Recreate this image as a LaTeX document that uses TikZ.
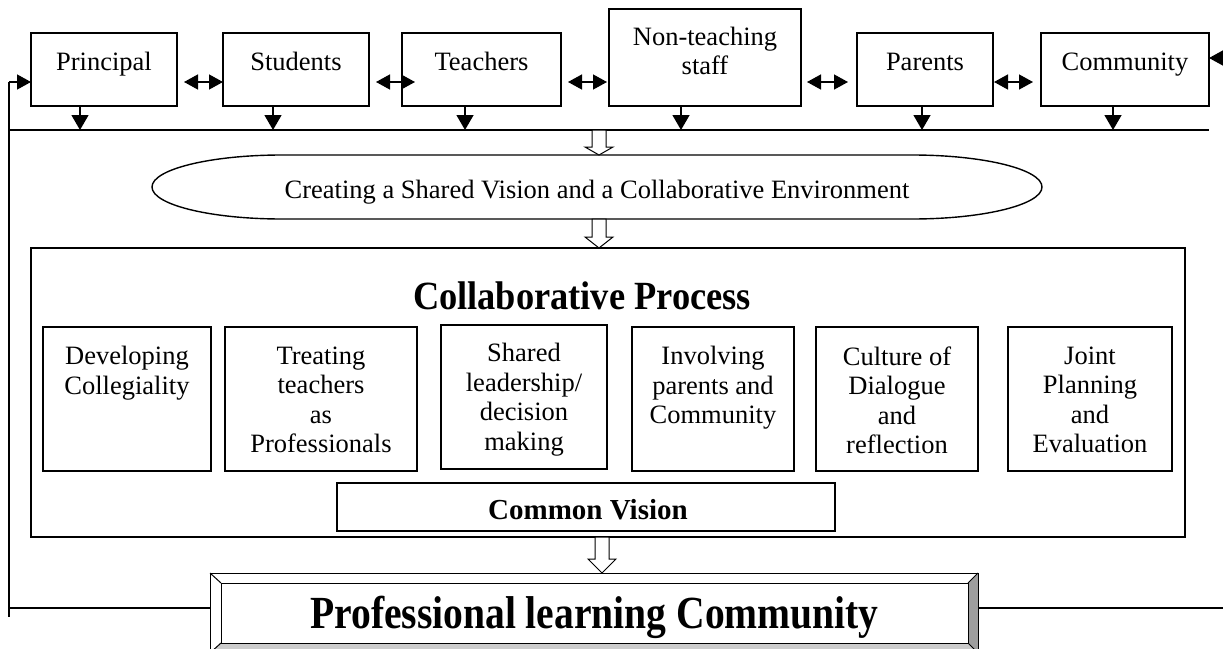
\documentclass[tikz,border=0pt]{standalone}
\usepackage{fontspec}
\setmainfont{Liberation Serif}
\usepackage{graphicx}
\usetikzlibrary{arrows.meta,calc}
\newcommand\hollowdown[3]{\draw[hollow] let \p1=(#1), \p2=(#2) in (\x1-7pt,\y1) -- (\x1-7pt,\y2+#3) -- (\x1-14pt,\y2+#3) -- (\x1,\y2) -- (\x1+14pt,\y2+#3) -- (\x1+7pt,\y2+#3) -- (\x1+7pt,\y1) -- cycle;}
\begin{document}
\begin{tikzpicture}[x=1pt,y=-1pt,
  box/.style={draw, line width=1.4pt, inner sep=0pt, outer sep=0pt},
  txt/.style={inner sep=0pt, outer sep=0pt, align=center, font=\fontsize{26.5}{29.5}\selectfont},
  lnk/.style={line width=1.4pt},
  dbl/.style={line width=1.4pt, {Triangle[length=14pt,width=15pt]}-{Triangle[length=14pt,width=15pt]}},
  inarrow/.style={line width=1.4pt, -{Triangle[length=14pt,width=15pt]}},
  dn/.style={line width=1.4pt, -{Triangle[length=15pt,width=17pt]}},
  hollow/.style={draw, fill=white, line width=1pt},
]
\useasboundingbox (0,0) rectangle (1223,648);
\clip (0,0) rectangle (1223,648);

% top row boxes
\node[box, minimum width=146pt, minimum height=73pt] (pri) at (104,69.5) {};
\node[box, minimum width=146pt, minimum height=73pt] (stu) at (296,69.5) {};
\node[box, minimum width=159pt, minimum height=73pt] (tea) at (481.5,69.5) {};
\node[box, minimum width=192pt, minimum height=97pt] (nts) at (705,57.5) {};
\node[box, minimum width=136pt, minimum height=73pt] (par) at (925,69.5) {};
\node[box, minimum width=168pt, minimum height=73pt] (com) at (1125,69.5) {};
\node[txt, anchor=base] (pri-t) at (104,70) {Principal};
\node[txt, anchor=base] (stu-t) at (296,70) {Students};
\node[txt, anchor=base] (tea-t) at (481.5,70) {Teachers};
\node[txt, anchor=north] (nts-t) at (705,27) {Non-teaching\\staff};
\node[txt, anchor=base] (par-t) at (925,70) {Parents};
\node[txt, anchor=base] (com-t) at (1125,70) {Community};

% side connectors
\coordinate (Lin) at (9,82);
\coordinate (Lbot) at (9,617);
\coordinate (Rin) at (1223,58);
\coordinate (ay) at (0,82);
\draw[inarrow] (Lin) -- (pri.west |- Lin);
\draw[lnk] (Lin) -- (Lbot);
\draw[inarrow] (Rin) -- (com.east |- Rin);

% double arrows
\draw[dbl, shorten <=7pt] (pri.east |- ay) -- (stu.west |- ay);
\draw[dbl, shorten <=7pt, shorten >=-13pt] (stu.east |- ay) -- (tea.west |- ay);
\draw[dbl, shorten <=7pt, shorten >=2pt] (tea.east |- ay) -- (nts.west |- ay);
\draw[dbl, shorten <=6pt, shorten >=9pt] (nts.east |- ay) -- (par.west |- ay);
\draw[dbl, shorten <=1pt, shorten >=8pt] (par.east |- ay) -- (com.west |- ay);

% bar
\coordinate (barL) at (9,130);
\coordinate (barR) at (1209,130);
\coordinate (barM) at (599,130);
\draw[lnk] (barL) -- (barR);
\draw[dn] ([xshift=-24pt]pri.south) -- ([xshift=-24pt]pri.south |- barL);
\draw[dn] ([xshift=-23pt]stu.south) -- ([xshift=-23pt]stu.south |- barL);
\draw[dn] ([xshift=-16.5pt]tea.south) -- ([xshift=-16.5pt]tea.south |- barL);
\draw[dn] ([xshift=-24pt]nts.south) -- ([xshift=-24pt]nts.south |- barL);
\draw[dn] ([xshift=-3pt]par.south) -- ([xshift=-3pt]par.south |- barL);
\draw[dn] ([xshift=-12pt]com.south) -- ([xshift=-12pt]com.south |- barL);

% ellipse
\node[inner sep=0pt, outer sep=0pt, minimum width=890pt, minimum height=64pt] (ell) at (597,187) {};
\draw[line width=1.4pt] ([xshift=130pt]ell.north west) -- ([xshift=-130pt]ell.north east)
  arc[start angle=90, end angle=-90, x radius=130pt, y radius=32pt]
  -- ([xshift=130pt]ell.south west)
  arc[start angle=270, end angle=90, x radius=130pt, y radius=32pt] -- cycle;
\node[txt, anchor=base] (ell-t) at (597,198) {Creating a Shared Vision and a Collaborative Environment};
\hollowdown{barM}{barM |- ell.north}{8pt}

% collaborative process
\node[box, minimum width=1154pt, minimum height=289pt] (cp) at (608,392.5) {};
\coordinate (a2) at ([xshift=2pt]ell.south);
\hollowdown{a2}{a2 |- cp.north}{11pt}
\node[inner sep=0pt, anchor=base, font=\bfseries\fontsize{40}{44}\selectfont] (cp-t) at (582,309) {\scalebox{0.91}[1]{Collaborative Process}};

\node[box, minimum width=168pt, minimum height=144pt] (b1) at (127,399) {};
\node[box, minimum width=192pt, minimum height=144pt] (b2) at (321,399) {};
\node[box, minimum width=166pt, minimum height=144pt] (b3) at (524,397) {};
\node[box, minimum width=162pt, minimum height=144pt] (b4) at (713,399) {};
\node[box, minimum width=162pt, minimum height=144pt] (b5) at (897,399) {};
\node[box, minimum width=164pt, minimum height=144pt] (b6) at (1090,399) {};
\node[txt, anchor=north] (b1-t) at ([yshift=-19.5pt]b1.north) {Developing\\Collegiality};
\node[txt, anchor=north] (b2-t) at ([yshift=-19.5pt]b2.north) {Treating\\teachers\\as\\Professionals};
\node[txt, anchor=north] (b3-t) at ([yshift=-18.5pt]b3.north) {Shared\\leadership/\\decision\\making};
\node[txt, anchor=north] (b4-t) at ([yshift=-19.5pt]b4.north) {Involving\\parents and\\Community};
\node[txt, anchor=north] (b5-t) at ([yshift=-19.5pt]b5.north) {Culture of\\Dialogue\\and\\reflection};
\node[txt, anchor=north] (b6-t) at ([yshift=-19.5pt]b6.north) {Joint\\Planning\\and\\Evaluation};

\node[box, minimum width=498pt, minimum height=48pt] (cv) at (586,507) {};
\node[inner sep=0pt, anchor=base, font=\bfseries\fontsize{29}{32}\selectfont] (cv-t) at (588,519) {Common Vision};

% professional learning community (bevelled box)
\node[draw, line width=1pt, fill=white, minimum width=747pt, minimum height=60pt, inner sep=0pt, outer sep=0pt] (plc) at (594.5,613) {};
\coordinate (pNW) at ([shift={(-11pt,10pt)}]plc.north west);
\coordinate (pNE) at ([shift={(10pt,10pt)}]plc.north east);
\coordinate (pSE) at ([shift={(10pt,-10pt)}]plc.south east);
\coordinate (pSW) at ([shift={(-11pt,-10pt)}]plc.south west);
\fill[white] (pNW) -- (pNE) -- (plc.north east) -- (plc.north west) -- cycle;
\fill[white] (pNW) -- (pSW) -- (plc.south west) -- (plc.north west) -- cycle;
\fill[black!38] (pNE) -- (pSE) -- (plc.south east) -- (plc.north east) -- cycle;
\fill[black!20] (pSW) -- (pSE) -- (plc.south east) -- (plc.south west) -- cycle;
\draw[line width=1pt] (pNW) -- (pNE) -- (pSE) -- (pSW) -- cycle;
\draw[line width=1pt] (plc.north west) -- (plc.north east) -- (plc.south east) -- (plc.south west) -- cycle;
\draw[line width=1pt] (pNW) -- (plc.north west) (pNE) -- (plc.north east) (pSE) -- (plc.south east) (pSW) -- (plc.south west);
\node[inner sep=0pt, anchor=base, font=\bfseries\fontsize{46}{50}\selectfont] (plc-t) at (594.5,628) {\scalebox{0.86}[1]{Professional learning Community}};

\coordinate (a3) at ([xshift=-6pt]cp.south);
\hollowdown{a3}{a3 |- pNW}{14pt}

\coordinate (Lh) at (9,608);
\coordinate (Rh) at (1223,608);
\draw[lnk] (Lh) -- (Lh -| pNW);
\draw[lnk] (Rh -| pNE) -- (Rh);
\end{tikzpicture}
\end{document}
